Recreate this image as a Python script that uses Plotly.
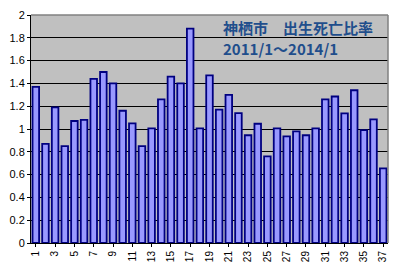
import plotly.graph_objects as go

categories = list(range(1, 38))
ratios = [1.37, 0.87, 1.19, 0.85, 1.07, 1.08, 1.44, 1.50, 1.40, 1.16,
          1.05, 0.85, 1.005, 1.26, 1.46, 1.40, 1.88, 1.005, 1.47, 1.17,
          1.30, 1.14, 0.945, 1.046, 0.76, 1.005, 0.935, 0.98, 0.945, 1.005,
          1.26, 1.285, 1.137, 1.34, 0.99, 1.084, 0.655]
x_ticks = list(range(1, 38, 2))
title_line1 = "神栖市　出生死亡比率"
title_line2 = "2011/1～2014/1"

fig = go.Figure()
fig.add_trace(go.Bar(
    x=categories, y=ratios,
    marker=dict(color="#9999FF", line=dict(color="#000080", width=1.8)),
))

fig.update_layout(
    width=395, height=272,
    margin=dict(l=31, r=7, t=15, b=29),
    paper_bgcolor="white", plot_bgcolor="#C0C0C0",
    bargap=0.32, showlegend=False,
    font=dict(family="Liberation Sans, Arial, sans-serif", color="black"),
    xaxis=dict(range=[0.5, 37.5], tickmode="array", tickvals=x_ticks,
               ticktext=[str(v) for v in x_ticks], tickangle=-90,
               tickfont=dict(size=10), showgrid=False, zeroline=False,
               showline=True, linecolor="black", linewidth=1,
               ticks="outside", ticklen=3, tickcolor="black"),
    yaxis=dict(range=[0, 2], dtick=0.2, tickfont=dict(size=11),
               showgrid=True, gridcolor="black", gridwidth=1,
               zeroline=False, showline=True, linecolor="black", linewidth=1,
               ticks="outside", ticklen=3, tickcolor="black"),
    shapes=[
        dict(type="line", xref="paper", yref="paper", x0=0, x1=1, y0=1, y1=1,
             line=dict(color="#808080", width=1.5)),
        dict(type="line", xref="paper", yref="paper", x0=1, x1=1, y0=0, y1=1,
             line=dict(color="#808080", width=1.5)),
    ],
    annotations=[
        dict(text="<b>" + title_line1 + "</b>", xref="paper", yref="paper",
             x=0.533, y=0.947, xanchor="left", yanchor="middle", showarrow=False,
             font=dict(family="Noto Sans CJK JP", size=15, color="#1F4E8C")),
        dict(text="<b>" + title_line2 + "</b>", xref="paper", yref="paper",
             x=0.533, y=0.851, xanchor="left", yanchor="middle", showarrow=False,
             font=dict(family="Noto Sans CJK JP", size=15, color="#1F4E8C")),
    ],
)

fig.write_html("out.html")
